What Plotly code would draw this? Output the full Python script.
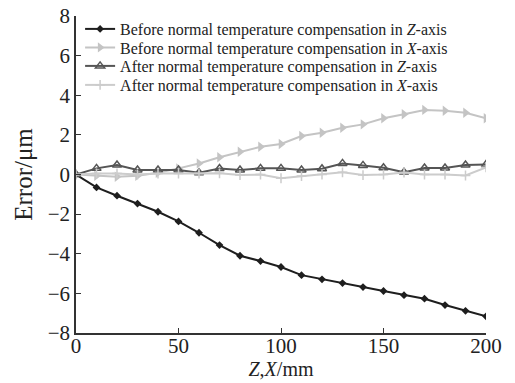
import plotly.graph_objects as go

x = [0, 10, 20, 30, 40, 50, 60, 70, 80, 90, 100, 110, 120, 130, 140, 150, 160, 170, 180, 190, 200]
z_before = [0, -0.65, -1.07, -1.47, -1.88, -2.37, -2.94, -3.56, -4.1, -4.37, -4.67, -5.08, -5.29, -5.48, -5.68, -5.88, -6.09, -6.27, -6.59, -6.88, -7.16]
x_before = [0, -0.06, -0.11, -0.06, 0.09, 0.31, 0.56, 0.87, 1.15, 1.40, 1.54, 1.94, 2.11, 2.36, 2.53, 2.84, 3.04, 3.26, 3.22, 3.12, 2.84]
z_after = [0, 0.31, 0.48, 0.23, 0.23, 0.23, 0.09, 0.3, 0.23, 0.31, 0.31, 0.23, 0.29, 0.56, 0.46, 0.34, 0.12, 0.33, 0.33, 0.48, 0.5]
x_after = [0, 0.05, 0.05, 0.0, 0.05, 0.05, 0.05, 0.06, -0.03, 0.0, -0.19, -0.08, 0.0, 0.11, -0.03, 0.0, 0.1, 0.0, 0.0, -0.05, 0.36]

names = [
    "Before normal temperature compensation in <i>Z</i>-axis",
    "Before normal temperature compensation in <i>X</i>-axis",
    "After normal temperature compensation in <i>Z</i>-axis",
    "After normal temperature compensation in <i>X</i>-axis",
]

font = "Liberation Serif, Times New Roman, serif"

fig = go.Figure()
fig.add_trace(go.Scatter(x=x, y=z_before, name=names[0], mode="lines+markers", legend="legend",
                         line=dict(color="#1e1e1e", width=2),
                         marker=dict(symbol="diamond", size=6, color="#1e1e1e")))
fig.add_trace(go.Scatter(x=x, y=x_before, name=names[1], mode="lines+markers", legend="legend2",
                         line=dict(color="#c4c4c4", width=2),
                         marker=dict(symbol="triangle-right", size=9, color="#c4c4c4")))
fig.add_trace(go.Scatter(x=x, y=z_after, name=names[2], mode="lines+markers", legend="legend3",
                         line=dict(color="#555555", width=2),
                         marker=dict(symbol="triangle-up-open", size=8, color="#555555",
                                     line=dict(width=1.5))))
fig.add_trace(go.Scatter(x=x, y=x_after, name=names[3], mode="lines+markers", legend="legend4",
                         line=dict(color="#cccccc", width=2),
                         marker=dict(symbol="cross-thin-open", size=7, color="#cccccc",
                                     line=dict(width=1.5, color="#cccccc"))))

plot_top, plot_bottom = 16, 333
row_px = [29, 47.5, 66, 85]


def legend_at(cy):
    return dict(x=0.01, y=(plot_bottom - cy) / (plot_bottom - plot_top),
                xanchor="left", yanchor="middle",
                font=dict(size=16, family=font, color="#222222"),
                bgcolor="rgba(0,0,0,0)", itemwidth=30)


fig.update_layout(
    width=515, height=383,
    margin=dict(l=76, r=29, t=16, b=50, autoexpand=False),
    paper_bgcolor="white", plot_bgcolor="white",
    font=dict(family=font, color="#222222", size=21),
    showlegend=True,
    legend=legend_at(row_px[0]),
    legend2=legend_at(row_px[1]),
    legend3=legend_at(row_px[2]),
    legend4=legend_at(row_px[3]),
    xaxis=dict(range=[0, 200], dtick=50, tick0=0, showline=True, linecolor="#333333",
               linewidth=1.5, ticks="inside", ticklen=5, tickcolor="#333333",
               showgrid=False, zeroline=False, automargin=False, ticklabelstandoff=-7,
               title=dict(text="<i>Z</i>,<i>X</i>/mm", standoff=2, font=dict(size=20)),
               tickfont=dict(size=21)),
    yaxis=dict(range=[-8, 8], dtick=2, tick0=0, showline=True, linecolor="#333333",
               linewidth=1.5, ticks="inside", ticklen=5, tickcolor="#333333",
               showgrid=False, zeroline=False, automargin=False,
               title=dict(text="Error/μm", standoff=8, font=dict(size=25)),
               tickfont=dict(size=21)),
)

fig.write_html("out.html")
